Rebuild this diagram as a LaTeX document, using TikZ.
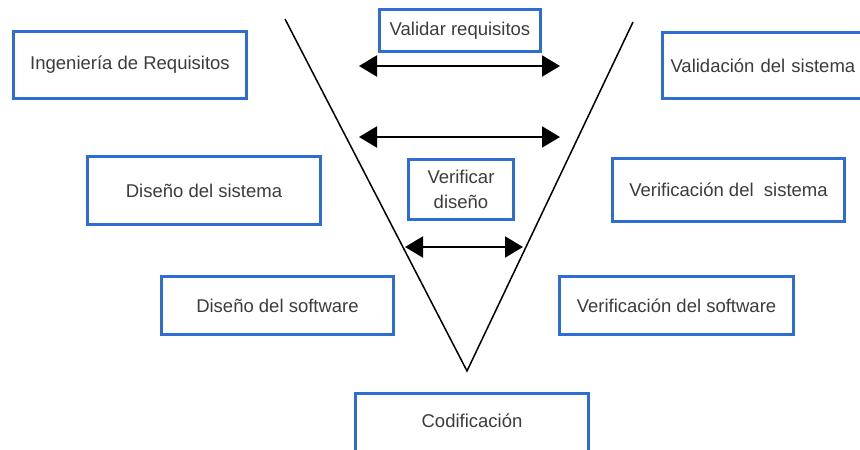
\documentclass[tikz,border=0pt]{standalone}
\usepackage{fontspec}
\setmainfont{Liberation Sans}
\usetikzlibrary{arrows.meta}
\definecolor{boxblue}{RGB}{46,110,210}
\definecolor{txtgray}{RGB}{60,60,60}
\tikzset{
  stage/.style={draw=boxblue, line width=3pt, fill=white, text=txtgray,
    font=\fontsize{18.5}{22}\selectfont, inner sep=0pt, align=center},
  vline/.style={line width=1.5pt, black},
  link/.style={line width=2pt, {Triangle[length=18pt,width=21pt]}-{Triangle[length=18pt,width=21pt]}}
}
\begin{document}
\begin{tikzpicture}[x=1pt,y=-1pt]
\useasboundingbox (0,0) rectangle (860,450);
\clip (0,0) rectangle (860,450);
% the V of the model
\coordinate (vl) at (285,19);
\coordinate (vb) at (467,371);
\coordinate (vr) at (633,22);
\draw[vline] (vl) -- (vb) -- (vr);
% stages
\node[stage, minimum width=233pt, minimum height=67pt] (ingreq) at (130,65) {Ingenier\'ia de Requisitos};
\node[stage, minimum width=161pt, minimum height=42pt] (valreq) at (460,30.5) {Validar requisitos};
\node[stage, minimum width=217pt, minimum height=66pt, text width=217pt, align=left] (valsis) at (771,65.5) {\hspace*{8pt}Validaci\'on del sistema};
\node[stage, minimum width=233pt, minimum height=68pt] (dissis) at (204,190.5) {Dise\~no del sistema};
\node[stage, minimum width=232pt, minimum height=58pt] (dissoft) at (277.5,305.5) {Dise\~no del software};
\node[stage, minimum width=105pt, minimum height=60pt, font=\fontsize{18.5}{25}\selectfont] (verdis) at (461,189.5) {Verificar\\dise\~no};
\node[stage, minimum width=232pt, minimum height=63pt] (versis) at (728.5,190) {Verificaci\'on del\ \ sistema};
\node[stage, minimum width=234pt, minimum height=58pt] (versoft) at (676.5,305.5) {Verificaci\'on del software};
\node[stage, minimum width=233pt, minimum height=70pt] (cod) at (472,428) {\raisebox{14pt}{Codificaci\'on}};
% links across the V
\coordinate (a1l) at (359,66);   \coordinate (a1r) at (560,66);
\coordinate (a2l) at (359,137);  \coordinate (a2r) at (560,137);
\coordinate (a3l) at (405,247);  \coordinate (a3r) at (523,247);
\draw[link] (a1l) -- (a1r);
\draw[link] (a2l) -- (a2r);
\draw[link] (a3l) -- (a3r);
\end{tikzpicture}
\end{document}
